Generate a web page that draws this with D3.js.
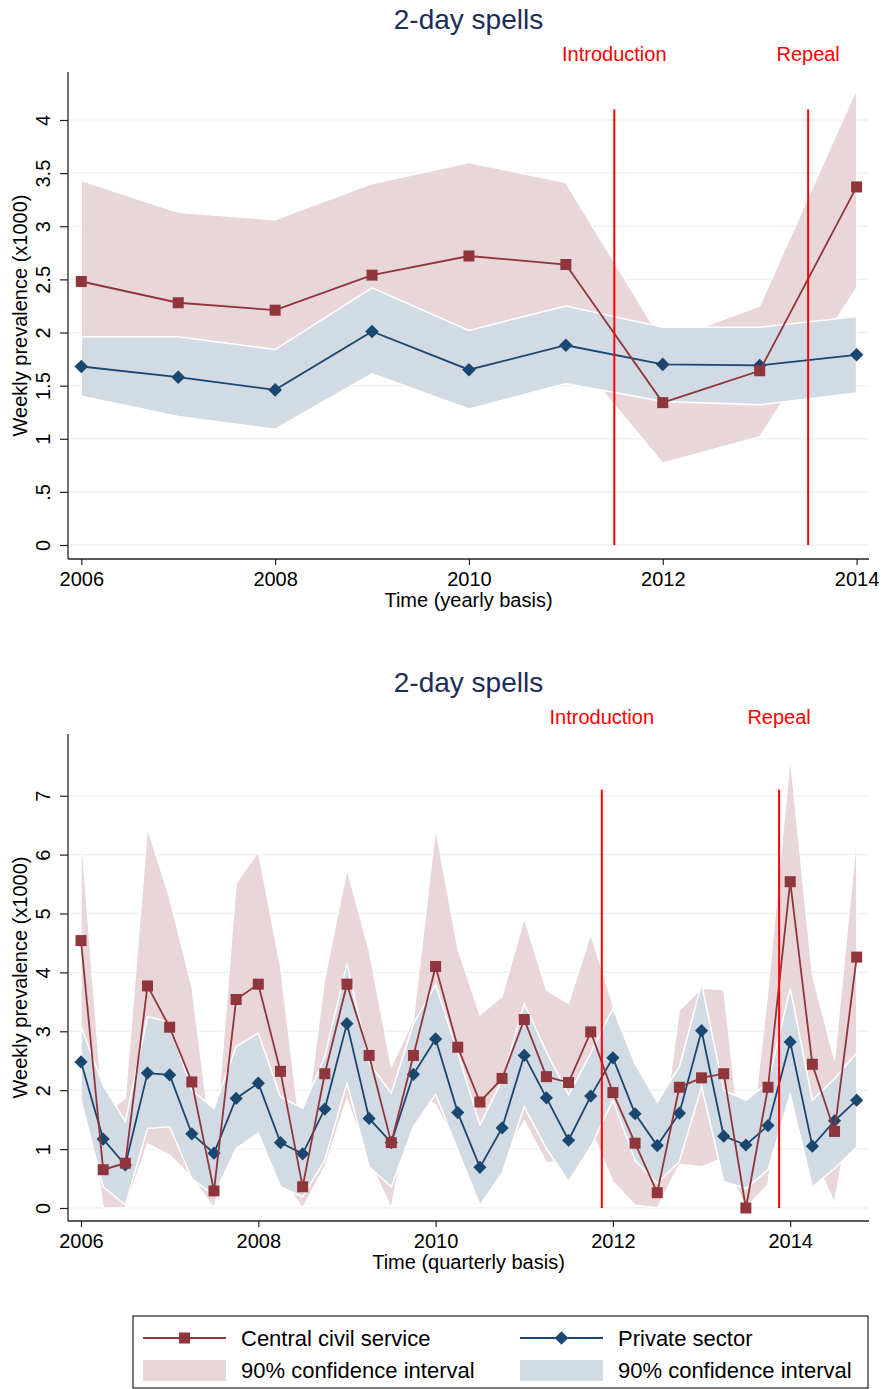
<!DOCTYPE html>
<html>
<head>
<meta charset="utf-8">
<script src="https://cdn.jsdelivr.net/npm/d3@7"></script>
<style>
  body { margin: 0; background: #fff; }
  svg text { font-family: "Liberation Sans", Arial, sans-serif; }
</style>
</head>
<body>
<svg id="chart" width="882" height="1389"></svg>
<script>
// ---- yearly panel data ----
const years = [2006, 2007, 2008, 2009, 2010, 2011, 2012, 2013, 2014];
const ccsYear   = [2.48, 2.28, 2.21, 2.54, 2.72, 2.64, 1.34, 1.64, 3.37];
const ccsYearLo = [1.53, 1.43, 1.36, 1.68, 1.84, 1.87, 0.77, 1.02, 2.42];
const ccsYearHi = [3.43, 3.13, 3.06, 3.40, 3.60, 3.41, 1.91, 2.25, 4.29];
const privYear   = [1.68, 1.58, 1.46, 2.01, 1.65, 1.88, 1.70, 1.69, 1.79];
const privYearLo = [1.40, 1.21, 1.09, 1.61, 1.28, 1.52, 1.35, 1.32, 1.43];
const privYearHi = [1.96, 1.96, 1.84, 2.42, 2.02, 2.25, 2.05, 2.05, 2.15];
const yearlyYTicks = [0, 0.5, 1, 1.5, 2, 2.5, 3, 3.5, 4];

// ---- quarterly panel data (2006q1 .. 2014q4) ----
const quarters = d3.range(36).map(i => 2006 + i / 4);
const ccsQ   = [4.54, 0.65, 0.76, 3.77, 3.07, 2.14, 0.29, 3.54, 3.80, 2.32, 0.36, 2.28,
                3.80, 2.59, 1.11, 2.59, 4.10, 2.73, 1.80, 2.20, 3.20, 2.23, 2.13, 2.99,
                1.96, 1.10, 0.26, 2.05, 2.21, 2.28, 0.00, 2.05, 5.54, 2.44, 1.30, 4.26];
const ccsQLo = [2.69, 0.00, 0.00, 1.09, 0.90, 0.52, 0.00, 1.57, 1.55, 0.54, 0.00, 0.70,
                1.85, 0.80, 0.00, 1.98, 1.75, 1.05, 0.32, 0.81, 1.48, 0.77, 0.79, 1.33,
                0.45, 0.05, 0.00, 0.74, 0.70, 0.85, 0.00, 0.40, 3.42, 0.92, 0.09, 2.19];
const ccsQHi = [6.39, 1.60, 1.86, 6.45, 5.26, 3.76, 0.80, 5.51, 6.05, 4.10, 1.00, 3.90,
                5.75, 4.38, 2.40, 3.20, 6.45, 4.41, 3.28, 3.59, 4.92, 3.70, 3.47, 4.65,
                3.45, 2.15, 0.55, 3.36, 3.73, 3.71, 0.35, 3.70, 7.66, 3.96, 2.51, 6.33];
const privQ   = [2.48, 1.17, 0.73, 2.29, 2.26, 1.26, 0.93, 1.86, 2.12, 1.11, 0.92, 1.68,
                 3.13, 1.52, 1.11, 2.27, 2.87, 1.62, 0.69, 1.36, 2.59, 1.87, 1.15, 1.90,
                 2.55, 1.60, 1.06, 1.61, 3.01, 1.22, 1.07, 1.40, 2.82, 1.05, 1.48, 1.83];
const privQLo = [1.83, 0.36, 0.05, 1.35, 1.38, 0.50, 0.22, 1.01, 1.27, 0.36, 0.19, 0.81,
                 2.12, 0.70, 0.36, 1.38, 1.93, 0.98, 0.05, 0.59, 1.72, 1.01, 0.45, 1.04,
                 1.83, 0.81, 0.42, 0.79, 2.06, 0.45, 0.33, 0.65, 1.92, 0.36, 0.67, 1.04];
const privQHi = [3.08, 2.08, 1.47, 3.25, 3.15, 2.00, 1.69, 2.74, 2.97, 1.89, 1.69, 2.57,
                 4.15, 2.46, 1.95, 3.13, 3.79, 2.63, 1.41, 2.17, 3.47, 2.65, 1.92, 2.63,
                 3.39, 2.45, 1.80, 2.40, 3.81, 2.00, 1.83, 2.12, 3.73, 1.83, 2.20, 2.63];
const quarterlyYTicks = [0, 1, 2, 3, 4, 5, 6, 7];

const xTickYears = [2006, 2008, 2010, 2012, 2014];
const seriesNames = ["Central civil service", "Private sector"];
const ciName = "90% confidence interval";

// ---- styles ----
const RED = "#90353b", NAVY = "#1a476f";
const RED_CI = "#e8d6d8", NAVY_CI = "#d2dae3";
const GRID = "#eaf1f3", EVENT = "#ff0000";
const FONT = "'Liberation Sans', Arial, sans-serif";

const svg = d3.select("#chart");

function diamondPath(r) {
  return `M0,${-r}L${r},0L0,${r}L${-r},0Z`;
}

function drawPanel(opt) {
  const g = svg.append("g");
  const x = d3.scaleLinear().domain(opt.xDomain).range(opt.xRange);
  const y = d3.scaleLinear().domain(opt.yDomain).range(opt.yRange);

  const rows = opt.t.map((t, i) => ({
    t: t,
    c: opt.ccs[i], cLo: opt.ccsLo[i], cHi: opt.ccsHi[i],
    p: opt.priv[i], pLo: opt.privLo[i], pHi: opt.privHi[i]
  }));

  // gridlines
  g.selectAll(".grid").data(opt.yTicks).join("line")
    .attr("x1", opt.left + 1).attr("x2", opt.right)
    .attr("y1", d => y(d)).attr("y2", d => y(d))
    .attr("stroke", GRID).attr("stroke-width", 1.4);

  // confidence bands
  const redArea = d3.area().x(d => x(d.t)).y0(d => y(d.cLo)).y1(d => y(d.cHi));
  const navyArea = d3.area().x(d => x(d.t)).y0(d => y(d.pLo)).y1(d => y(d.pHi));
  g.append("path").datum(rows).attr("d", redArea)
    .attr("fill", RED_CI).attr("stroke", "#fff").attr("stroke-width", 1.3);
  g.append("path").datum(rows).attr("d", navyArea)
    .attr("fill", NAVY_CI).attr("stroke", "#fff").attr("stroke-width", 1.5);

  // private sector line + diamonds
  g.append("path").datum(rows)
    .attr("d", d3.line().x(d => x(d.t)).y(d => y(d.p)))
    .attr("fill", "none").attr("stroke", NAVY).attr("stroke-width", 1.8);
  g.selectAll(".dia").data(rows).join("path")
    .attr("d", diamondPath(opt.diamond))
    .attr("transform", d => `translate(${x(d.t)},${y(d.p)})`)
    .attr("fill", NAVY);

  // central civil service line + squares
  g.append("path").datum(rows)
    .attr("d", d3.line().x(d => x(d.t)).y(d => y(d.c)))
    .attr("fill", "none").attr("stroke", RED).attr("stroke-width", 1.8);
  g.selectAll(".sq").data(rows).join("rect")
    .attr("x", d => x(d.t) - opt.square / 2)
    .attr("y", d => y(d.c) - opt.square / 2)
    .attr("width", opt.square).attr("height", opt.square)
    .attr("fill", RED);

  // policy event lines
  opt.events.forEach(ev => {
    g.append("line")
      .attr("x1", x(ev.t)).attr("x2", x(ev.t))
      .attr("y1", y(0)).attr("y2", y(opt.eventTop))
      .attr("stroke", EVENT).attr("stroke-width", 2);
    g.append("text")
      .attr("x", x(ev.t)).attr("y", opt.eventLabelY)
      .attr("text-anchor", "middle").attr("fill", EVENT)
      .style("font-size", "20px").text(ev.label);
  });

  // axes
  g.append("line").attr("x1", opt.left).attr("x2", opt.left)
    .attr("y1", opt.top).attr("y2", opt.axisY)
    .attr("stroke", "#222").attr("stroke-width", 1.3);
  g.append("line").attr("x1", opt.left).attr("x2", opt.right)
    .attr("y1", opt.axisY).attr("y2", opt.axisY)
    .attr("stroke", "#222").attr("stroke-width", 1.3);

  g.append("g").attr("transform", `translate(${opt.left},0)`)
    .call(d3.axisLeft(y).tickValues(opt.yTicks).tickSize(8).tickSizeOuter(0)
      .tickFormat(d => String(d).replace(/^0\./, ".")))
    .attr("font-family", FONT).attr("font-size", 20)
    .call(a => a.select(".domain").remove())
    .call(a => a.selectAll("line").attr("stroke", "#222").attr("stroke-width", 1.2))
    .call(a => a.selectAll("text")
      .attr("x", null).attr("dy", null).attr("fill", "#000")
      .attr("text-anchor", "middle")
      .attr("transform", "translate(-18,0) rotate(-90)"));

  g.append("g").attr("transform", `translate(0,${opt.axisY})`)
    .call(d3.axisBottom(x).tickValues(xTickYears).tickSize(6).tickSizeOuter(0)
      .tickFormat(d3.format("d")))
    .attr("font-family", FONT).attr("font-size", 20)
    .call(a => a.select(".domain").remove())
    .call(a => a.selectAll("line").attr("stroke", "#222").attr("stroke-width", 1.2))
    .call(a => a.selectAll("text").attr("y", 27).attr("dy", null).attr("fill", "#000"));

  // titles
  const cx = (opt.left + opt.right) / 2;
  g.append("text").attr("x", cx).attr("y", opt.titleY)
    .attr("text-anchor", "middle").attr("fill", "#1c2d5a")
    .style("font-size", "28px").text(opt.title);
  g.append("text").attr("x", cx).attr("y", opt.axisY + 48)
    .attr("text-anchor", "middle").attr("fill", "#000")
    .style("font-size", "20px").text(opt.xTitle);
  g.append("text")
    .attr("transform", `translate(27,${(opt.top + opt.axisY) / 2}) rotate(-90)`)
    .attr("text-anchor", "middle").attr("fill", "#000")
    .style("font-size", "20px").text("Weekly prevalence (x1000)");
}

drawPanel({
  title: "2-day spells", xTitle: "Time (yearly basis)", titleY: 29,
  t: years, ccs: ccsYear, ccsLo: ccsYearLo, ccsHi: ccsYearHi,
  priv: privYear, privLo: privYearLo, privHi: privYearHi,
  xDomain: [2006, 2014], xRange: [81.3, 856.6],
  yDomain: [0, 4], yRange: [545, 120], yTicks: yearlyYTicks,
  left: 68, right: 869, top: 72, axisY: 559,
  events: [{ label: "Introduction", t: 2011.5 }, { label: "Repeal", t: 2013.5 }],
  eventTop: 4.1, eventLabelY: 61,
  square: 11, diamond: 6.8
});

drawPanel({
  title: "2-day spells", xTitle: "Time (quarterly basis)", titleY: 692,
  t: quarters, ccs: ccsQ, ccsLo: ccsQLo, ccsHi: ccsQHi,
  priv: privQ, privLo: privQLo, privHi: privQHi,
  xDomain: [2006, 2014], xRange: [81, 790.2],
  yDomain: [0, 7], yRange: [1208, 795.7], yTicks: quarterlyYTicks,
  left: 68, right: 869, top: 734, axisY: 1221,
  events: [{ label: "Introduction", t: 2011.875 }, { label: "Repeal", t: 2013.875 }],
  eventTop: 7.1, eventLabelY: 724,
  square: 11, diamond: 6.6
});

// ---- legend ----
const lg = svg.append("g");
lg.append("rect").attr("x", 133).attr("y", 1316).attr("width", 735).attr("height", 72)
  .attr("fill", "#fff").attr("stroke", "#222").attr("stroke-width", 1.2);

const legendCols = [
  { x: 143, name: seriesNames[0], color: RED, ci: RED_CI, mark: "square" },
  { x: 520, name: seriesNames[1], color: NAVY, ci: NAVY_CI, mark: "diamond" }
];
legendCols.forEach(c => {
  lg.append("line").attr("x1", c.x).attr("x2", c.x + 83)
    .attr("y1", 1338).attr("y2", 1338)
    .attr("stroke", c.color).attr("stroke-width", 1.8);
  if (c.mark === "square") {
    lg.append("rect").attr("x", c.x + 41.5 - 5.5).attr("y", 1338 - 5.5)
      .attr("width", 11).attr("height", 11).attr("fill", c.color);
  } else {
    lg.append("path").attr("d", diamondPath(6.8))
      .attr("transform", `translate(${c.x + 41.5},1338)`).attr("fill", c.color);
  }
  lg.append("text").attr("x", c.x + 98).attr("y", 1346)
    .attr("fill", "#000").style("font-size", "22px").text(c.name);
  lg.append("rect").attr("x", c.x).attr("y", 1360).attr("width", 83).attr("height", 21)
    .attr("fill", c.ci);
  lg.append("text").attr("x", c.x + 98).attr("y", 1378)
    .attr("fill", "#000").style("font-size", "22px").text(ciName);
});
</script>
</body>
</html>
